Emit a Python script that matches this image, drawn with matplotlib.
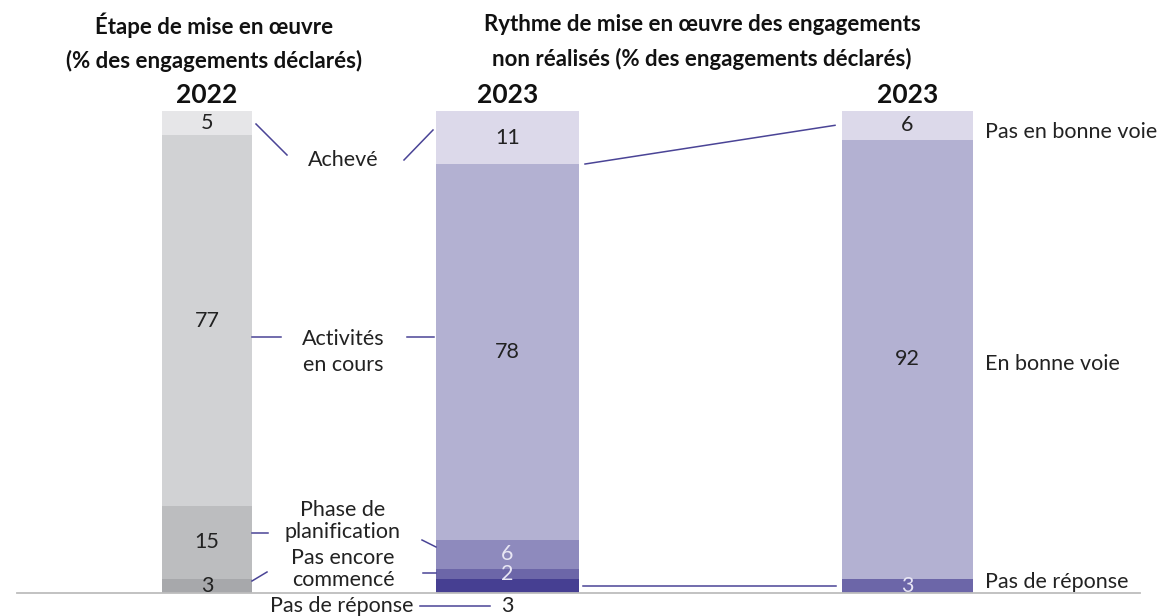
import matplotlib
matplotlib.use("Agg")
import matplotlib.pyplot as plt
from matplotlib.lines import Line2D
import numpy as np

# ---------------- data ----------------
years = ["2022", "2023", "2023"]
stage_labels = ["Pas de réponse", "Pas encore\ncommencé", "Phase de\nplanification",
                "Activités\nen cours", "Achevé"]
stage_2022 = [3, 0, 15, 77, 5]          # 2022 has no "pas encore commencé" segment
stage_2023 = [3, 2, 6, 78, 11]
pace_labels = ["Pas de réponse", "En bonne voie", "Pas en bonne voie"]
pace_2023 = [3, 92, 6]
title_left = "Étape de mise en œuvre\n(% des engagements déclarés)"
title_right = "Rythme de mise en œuvre des engagements\nnon réalisés (% des engagements déclarés)"

# ---------------- style ----------------
W, H = 1161, 616
FONT = ["Lato", "DejaVu Sans"]
plt.rcParams["font.family"] = FONT
LINE = "#4a4496"
col_2022 = ["#a7a8ab", "#a7a8ab", "#bcbdbf", "#d1d2d4", "#e6e6e8"]
col_2023 = ["#463f92", "#6c66a8", "#8e8abd", "#b3b1d2", "#dcd9ea"]
col_pace = ["#6c66a8", "#b3b1d2", "#dcd9ea"]
txt_2022 = ["#222222"] * 5
txt_2023 = ["#ffffff", "#e8e6f4", "#e8e6f4", "#222222", "#222222"]
txt_pace = ["#e8e6f4", "#222222", "#222222"]

fig = plt.figure(figsize=(W / 100, H / 100), dpi=100)
y_bot, y_top = 593, 111
ax = fig.add_axes([0, 1 - y_bot / H, 1, (y_bot - y_top) / H])
ax.set_xlim(0, W)
ax.set_ylim(0, 100)
ax.axis("off")

def fx(x):
    return x / W

def fy(y):
    return 1 - y / H

# bar geometry (layout, in pixel-like x units)
bars = [
    dict(vals=stage_2022, cols=col_2022, tcols=txt_2022, left=162, right=252),
    dict(vals=stage_2023, cols=col_2023, tcols=txt_2023, left=436, right=579),
    dict(vals=pace_2023, cols=col_pace, tcols=txt_pace, left=842, right=973),
]

FS = 15.5
for bi, b in enumerate(bars):
    v = np.array(b["vals"], dtype=float)
    h = v / v.sum() * 100
    bottoms = np.concatenate([[0], np.cumsum(h)[:-1]])
    cx = (b["left"] + b["right"]) / 2
    w = b["right"] - b["left"]
    ax.bar(cx, h, width=w, bottom=bottoms, color=b["cols"], linewidth=0)
    b["h"], b["bottoms"], b["cx"] = h, bottoms, cx
    for k, (val, hh, bb) in enumerate(zip(v, h, bottoms)):
        if val == 0:
            continue
        if bi == 1 and k == 0:
            continue  # drawn below the axis
        ax.text(cx, bb + hh / 2, f"{int(val)}", ha="center", va="center",
                fontsize=FS, color=b["tcols"][k], clip_on=False)

# baseline
ax.axhline(0, xmin=17 / W, xmax=1140 / W, color="#bdbdbd", lw=1.3, clip_on=False)

# titles
fig.text(fx(214), fy(42), title_left, ha="center", va="center", fontsize=16,
         fontweight="bold", linespacing=1.68, color="#111111")
fig.text(fx(702), fy(42), title_right, ha="center", va="center", fontsize=16,
         fontweight="bold", linespacing=1.68, color="#111111")
for b, yr in zip(bars, years):
    fig.text(fx(b["cx"]), fy(95), yr, ha="center", va="center", fontsize=19,
             fontweight="bold", color="#111111")

# middle stage labels
mid_x = 343
stage_y = [None, 569, 521, 352, 160]
stage_ls = [None, 1.15, 1.15, 1.35, 1.0]
for lab, yy, ls in zip(stage_labels, stage_y, stage_ls):
    if yy is None:
        continue
    fig.text(fx(mid_x), fy(yy), lab, ha="center", va="center", fontsize=FS,
             linespacing=ls, color="#222222")

# "Pas de réponse" below axis with its value
fig.text(fx(414), fy(606), stage_labels[0], ha="right", va="center", fontsize=FS,
         color="#222222")
fig.text(fx(bars[1]["cx"]), fy(606), f"{stage_2023[0]}", ha="center", va="center",
         fontsize=FS, color="#222222")

# right labels
pace_y = [582, 364, 132]
for lab, yy in zip(pace_labels, pace_y):
    fig.text(fx(985), fy(yy), lab, ha="left", va="center", fontsize=FS,
             color="#222222")

def seg(x0, y0, x1, y1, lw=1.1):
    fig.add_artist(Line2D([fx(x0), fx(x1)], [fy(y0), fy(y1)], color=LINE, lw=lw))

# leader lines (pixel layout)
seg(256, 124, 287, 155)   # Achevé left
seg(404, 160, 433, 130)   # Achevé right
seg(252, 337, 281, 337)   # Activités left
seg(407, 337, 434, 337)   # Activités right
seg(252, 533, 268, 533)   # Planification left
seg(422, 540, 436, 547)   # Planification right
seg(252, 581, 267, 572)   # Pas encore left
seg(423, 573, 436, 573)   # Pas encore right
seg(420, 606, 490, 606)   # Pas de réponse

# connectors between the 2023 bars, computed from data
b2, b3 = bars[1], bars[2]
top_b2 = b2["bottoms"][-1]
top_b3 = b3["bottoms"][-1] + b3["h"][-1] / 2
ax.plot([b2["right"] + 6, b3["left"] - 7], [top_b2, top_b3], color=LINE, lw=1.1,
        clip_on=False)
low_b2 = b2["h"][0] / 2
ax.plot([b2["right"] + 4, b3["left"] - 6], [low_b2, low_b2], color=LINE, lw=1.1,
        clip_on=False)

fig.savefig("out.png", dpi=100)
